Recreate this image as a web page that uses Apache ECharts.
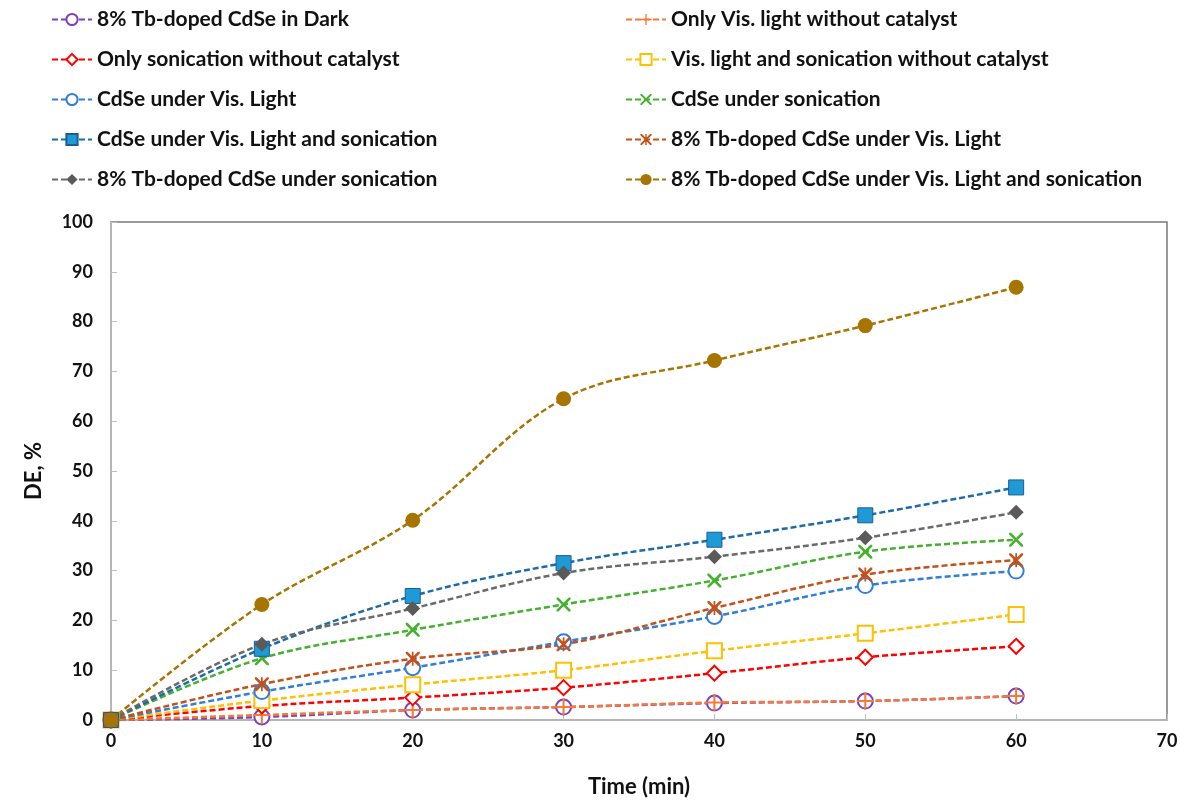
<!DOCTYPE html>
<html>
<head>
<meta charset="utf-8">
<script src="https://cdn.jsdelivr.net/npm/echarts@6/dist/echarts.min.js"></script>
<style>
html,body{margin:0;padding:0;background:#fff;}
#chart{width:1187px;height:803px;}
</style>
</head>
<body>
<div id="chart"></div>
<script>
// ---- data ----
const times = [0, 10, 20, 30, 40, 50, 60];
const xTicks = [0, 10, 20, 30, 40, 50, 60, 70];
const yTicks = [0, 10, 20, 30, 40, 50, 60, 70, 80, 90, 100];
const names = [
  '8% Tb-doped CdSe in Dark',
  'Only Vis. light without catalyst',
  'Only sonication without catalyst',
  'Vis. light and sonication without catalyst',
  'CdSe under Vis. Light',
  'CdSe under sonication',
  'CdSe under Vis. Light and sonication',
  '8% Tb-doped CdSe under Vis. Light',
  '8% Tb-doped CdSe under sonication',
  '8% Tb-doped CdSe under Vis. Light and sonication'
];
const darkTb      = [0, 0.6, 2.0, 2.6, 3.4, 3.8, 4.8];
const onlyVis     = [0, 1.0, 2.0, 2.6, 3.5, 3.8, 4.8];
const onlySon     = [0, 2.8, 4.5, 6.5, 9.4, 12.6, 14.8];
const visSonNoCat = [0, 3.9, 7.1, 10.0, 13.9, 17.4, 21.2];
const cdseVis     = [0, 5.7, 10.5, 15.7, 20.8, 27.0, 29.9];
const cdseSon     = [0, 12.4, 18.1, 23.2, 28.0, 33.8, 36.2];
const cdseVisSon  = [0, 14.3, 24.9, 31.5, 36.2, 41.1, 46.7];
const tbVis       = [0, 7.2, 12.3, 15.2, 22.5, 29.2, 32.1];
const tbSon       = [0, 15.2, 22.4, 29.5, 32.8, 36.6, 41.7];
const tbVisSon    = [0, 23.2, 40.1, 64.5, 72.2, 79.2, 86.9];

// ---- styling ----
const FONT = 'Lato';
const PLUS = 'path://M0,4.4 L10,4.4 L10,5.6 L0,5.6 Z M4.4,0 L5.6,0 L5.6,10 L4.4,10 Z';
const XMARK = 'path://M0,0 L1.3,0 L10,8.7 L10,10 L8.7,10 L0,1.3 Z M10,0 L10,1.3 L1.3,10 L0,10 L0,8.7 L8.7,0 Z';
const ASTER = 'path://M0,0 L1.3,0 L10,8.7 L10,10 L8.7,10 L0,1.3 Z M10,0 L10,1.3 L1.3,10 L0,10 L0,8.7 L8.7,0 Z M4.4,0 L5.6,0 L5.6,10 L4.4,10 Z';

function mk(name, data, lineColor, symbol, size, fill, border, bw) {
  return {
    name: name, type: 'line', data: times.map((t, i) => [t, data[i]]),
    smooth: 0.35, symbol: symbol, symbolSize: size,
    lineStyle: {color: lineColor, width: 2.5, type: [6, 3]},
    itemStyle: {color: fill, borderColor: border, borderWidth: bw},
    emphasis: {disabled: true}
  };
}

const series = [
  mk(names[0], darkTb, '#7F3FBF', 'emptyCircle', 15, '#7F3FBF', '#7F3FBF', 1.5),
  mk(names[1], onlyVis, '#F47A36', PLUS, 17, '#F47A36', '#F47A36', 0),
  mk(names[2], onlySon, '#FF0000', 'emptyDiamond', 15, '#FF0000', '#FF0000', 1.5),
  mk(names[3], visSonNoCat, '#FFC000', 'emptyRect', 15, '#FFC000', '#FFC000', 1.5),
  mk(names[4], cdseVis, '#2F7ED8', 'emptyCircle', 15, '#2F7ED8', '#2F7ED8', 1.5),
  mk(names[5], cdseSon, '#45B02E', XMARK, 14, '#45B02E', '#45B02E', 0),
  mk(names[6], cdseVisSon, '#1D6BA6', 'rect', 15, '#1E9AD6', '#1A5C96', 1),
  mk(names[7], tbVis, '#C4501A', ASTER, 14, '#C4501A', '#C4501A', 0),
  mk(names[8], tbSon, '#6A6A6A', 'diamond', 15, '#5A5A5A', '#5A5A5A', 0),
  mk(names[9], tbVisSon, '#A87400', 'circle', 15, '#A87400', '#A87400', 0)
];

const legendText = {fontFamily: FONT, fontWeight: 'bold', fontSize: 21, color: '#111', lineHeight: 21};
const chart = echarts.init(document.getElementById('chart'), null, {renderer: 'canvas'});
chart.setOption({
  animation: false,
  backgroundColor: '#fff',
  legend: [
    {orient: 'vertical', left: 46, top: 4, itemWidth: 40, itemHeight: 14, itemGap: 19,
     textStyle: legendText, selectedMode: false,
     data: [names[0], names[2], names[4], names[6], names[8]]},
    {orient: 'vertical', left: 620, top: 4, itemWidth: 40, itemHeight: 14, itemGap: 19,
     textStyle: legendText, selectedMode: false,
     data: [names[1], names[3], names[5], names[7], names[9]]}
  ],
  grid: {left: 111, right: 20, top: 222, bottom: 81, show: true, borderColor: '#7A7A7A', borderWidth: 1.5},
  xAxis: {
    type: 'value', min: xTicks[0], max: xTicks[xTicks.length - 1], interval: 10,
    name: 'Time (min)', nameLocation: 'middle', nameGap: 56,
    nameTextStyle: {fontFamily: FONT, fontWeight: 'bold', fontSize: 22, color: '#111'},
    axisLine: {show: true, lineStyle: {color: '#BFBFBF', width: 1.5}},
    axisTick: {show: true, inside: true, length: 6, lineStyle: {color: '#BFBFBF'}},
    axisLabel: {margin: 12, fontFamily: FONT, fontWeight: 'bold', fontSize: 18, color: '#111',
      formatter: v => xTicks.includes(v) ? String(v) : ''},
    splitLine: {show: false}
  },
  yAxis: {
    type: 'value', min: yTicks[0], max: yTicks[yTicks.length - 1], interval: 10,
    name: 'DE, %', nameLocation: 'middle', nameGap: 66, nameRotate: 90,
    nameTextStyle: {fontFamily: FONT, fontWeight: 'bold', fontSize: 22, color: '#111'},
    axisLine: {show: true, lineStyle: {color: '#BFBFBF', width: 1.5}},
    axisTick: {show: true, inside: true, length: 6, lineStyle: {color: '#BFBFBF'}},
    axisLabel: {margin: 18, fontFamily: FONT, fontWeight: 'bold', fontSize: 18, color: '#111',
      formatter: v => yTicks.includes(v) ? String(v) : ''},
    splitLine: {show: false}
  },
  series: series
});
</script>
</body>
</html>
